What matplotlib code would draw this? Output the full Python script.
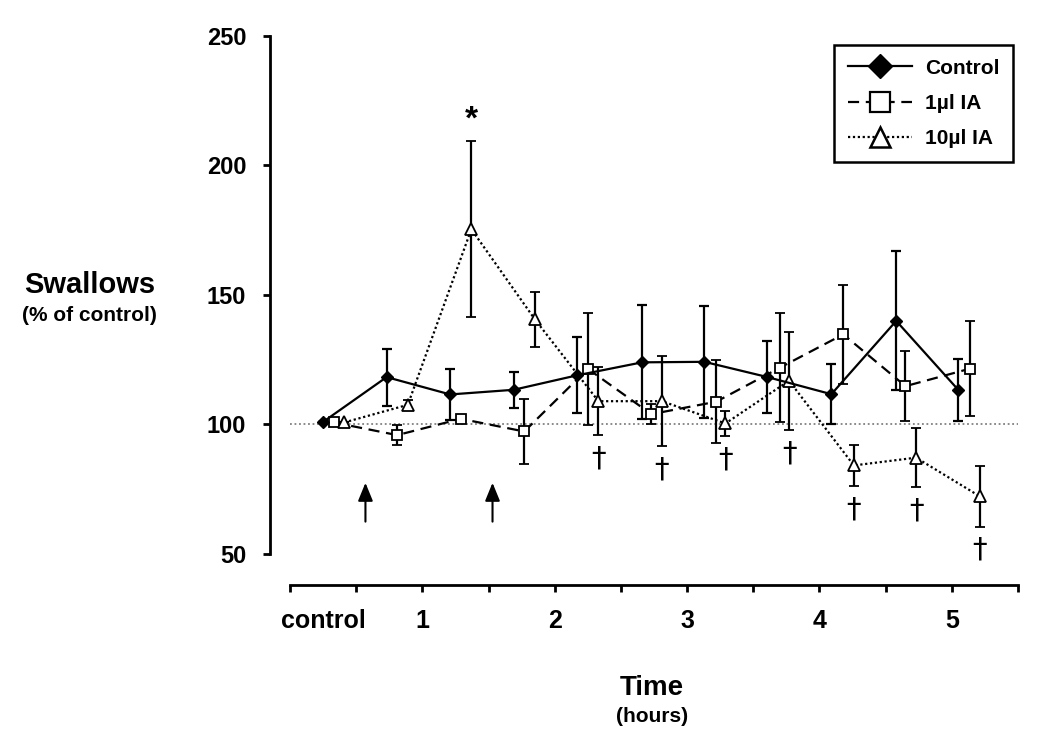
import numpy as np
import matplotlib
matplotlib.use('Agg')
import matplotlib.pyplot as plt
from matplotlib.lines import Line2D

plt.rcParams['font.family'] = ['Liberation Sans', 'DejaVu Sans']
plt.rcParams['font.weight'] = 'bold'

# time of each sample (hours)
t_ctrl = [0.25, 0.73, 1.21, 1.69, 2.17, 2.66, 3.13, 3.60, 4.09, 4.58, 5.05]
t_ia1 = [0.33, 0.81, 1.29, 1.77, 2.25, 2.73, 3.22, 3.70, 4.18, 4.65, 5.14]
t_ia10 = [0.41, 0.89, 1.37, 1.85, 2.33, 2.81, 3.29, 3.77, 4.26, 4.73, 5.21]

ctrl_mean = [101, 118.3, 111.6, 113.4, 119, 124, 124.2, 118.4, 111.7, 140, 113.3]
ctrl_err = [0, 11, 10, 7, 14.7, 22, 21.7, 14, 11.7, 26.8, 12]
ia1_mean = [100.8, 95.9, 102.2, 97.3, 121.5, 104, 108.8, 121.9, 134.8, 114.8, 121.6]
ia1_err = [0, 4, 0, 12.7, 21.7, 4, 16, 21, 19, 13.5, 18.5]
ia10_mean = [100.8, 107.6, 175.4, 140.6, 109, 109, 100.4, 116.9, 84.2, 87.2, 72.3]
ia10_err = [0, 2, 34, 10.7, 13.2, 17.4, 5, 19, 8, 11.4, 11.8]

dagger_idx = [4, 5, 6, 7, 8, 9, 10]   # 10ul points marked with a dagger
star_idx = 2                          # 10ul point marked with *
arrow_t = [0.57, 1.53]                # injection times

xtick_pos = [0.25, 1, 2, 3, 4, 5]
xtick_lab = ['control', '1', '2', '3', '4', '5']

fig = plt.figure(figsize=(10.5, 7.45), dpi=100)
ax = fig.add_axes([290/1050, 1-554/745, 728/1050, 518/745])

ax.set_xlim(0, 5.5)
ax.set_ylim(50, 250)

ax.axhline(100, color='gray', ls=(0, (1, 1.5)), lw=1.3, zorder=1)

dash1 = (0, (5, 3))
dot10 = (0, (1, 1.2))
ebkw = dict(capsize=3.6, elinewidth=1.6, capthick=1.6, ecolor='black', lw=1.6, color='black')
ax.errorbar(t_ctrl, ctrl_mean, yerr=ctrl_err, fmt='-D', ms=6.5, mfc='black', mec='black',
            zorder=4, **ebkw)
ax.errorbar(t_ia1, ia1_mean, yerr=ia1_err, fmt='s', ls=dash1, ms=7.5, mfc='white', mec='black',
            mew=1.3, zorder=3, **ebkw)
ax.errorbar(t_ia10, ia10_mean, yerr=ia10_err, fmt='^', ls=dot10, ms=8, mfc='white', mec='black',
            mew=1.3, zorder=3, **ebkw)

# significance marks
for i in dagger_idx:
    ax.text(t_ia10[i], ia10_mean[i] - ia10_err[i] - 3.5, '\u2020', ha='center', va='top',
            fontsize=21, family='DejaVu Sans', fontweight='normal', clip_on=False)
ax.text(t_ia10[star_idx], ia10_mean[star_idx] + ia10_err[star_idx] + 2, '*', ha='center', va='bottom',
        fontsize=24, fontweight='bold')

for xa in arrow_t:
    ax.annotate('', xy=(xa, 77.5), xytext=(xa, 62.5),
                arrowprops=dict(arrowstyle='-|>,head_length=1.1,head_width=0.45', lw=1.5,
                                color='black', shrinkA=0, shrinkB=0))

# axes look
for s in ['top', 'right']:
    ax.spines[s].set_visible(False)
ax.spines['left'].set_position(('outward', 14.5))
ax.spines['bottom'].set_position(('outward', 22.5))
ax.spines['left'].set_linewidth(2)
ax.spines['bottom'].set_linewidth(2)

ax.set_yticks([50, 100, 150, 200, 250])
ax.tick_params(axis='y', length=5, width=2, pad=12, labelsize=17)
ax.xaxis.remove_overlapping_locs = False
ax.set_xticks(np.arange(0, 5.51, 0.5))
ax.set_xticklabels([])
ax.tick_params(axis='x', which='major', length=5, width=2)
ax.set_xticks(xtick_pos, xtick_lab, minor=True)
ax.tick_params(axis='x', which='minor', length=0, pad=17, labelsize=18)

fig.text(89.5/1050, 1-285/745, 'Swallows', ha='center', va='center', fontsize=21, fontweight='bold')
fig.text(89.5/1050, 1-316/745, '(% of control)', ha='center', va='center', fontsize=15, fontweight='bold')
fig.text(652/1050, 1-688/745, 'Time', ha='center', va='center', fontsize=20, fontweight='bold')
fig.text(652/1050, 1-717/745, '(hours)', ha='center', va='center', fontsize=15, fontweight='bold')

handles = [
    Line2D([], [], color='black', lw=1.6, marker='D', ms=12, mfc='black', mec='black'),
    Line2D([], [], color='black', lw=1.6, ls=dash1, marker='s', ms=14, mfc='white', mec='black', mew=1.6),
    Line2D([], [], color='black', lw=1.6, ls=dot10, marker='^', ms=15, mfc='white', mec='black', mew=1.8),
]
leg = ax.legend(handles, ['Control', '1\u00b5l IA', '10\u00b5l IA'], loc='upper right',
                bbox_to_anchor=(1013/1050, 1-45/745), bbox_transform=fig.transFigure, borderaxespad=0,
                fontsize=15, handlelength=3.1, handletextpad=0.6,
                labelspacing=0.78, borderpad=0.65, fancybox=False, framealpha=1, edgecolor='black')
leg.get_frame().set_linewidth(1.8)

fig.savefig('out.png', dpi=100)
